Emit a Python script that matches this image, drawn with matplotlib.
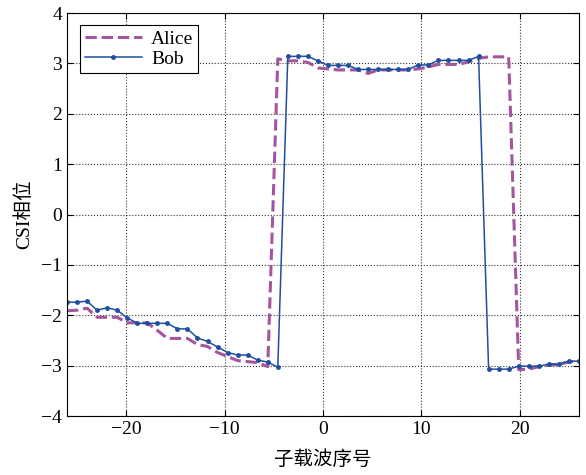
import numpy as np
import matplotlib
matplotlib.use("Agg")
import matplotlib.pyplot as plt

plt.rcParams['font.family'] = ['Liberation Serif', 'Noto Sans CJK SC']
plt.rcParams['font.size'] = 14

# 52 subcarriers spread over [-26, 26]
n_sub = 52
sub_x = np.linspace(-26, 26, n_sub)

alice_phase = [
    -1.91, -1.90, -1.86, -2.04, -2.04, -2.04, -2.15, -2.15, -2.15, -2.30,
    -2.46, -2.46, -2.46, -2.58, -2.62, -2.74, -2.82, -2.90, -2.92, -2.94,
    -3.02, 3.09, 3.05, 3.05, 3.02, 2.91, 2.89, 2.87, 2.87, 2.87,
    2.80, 2.87, 2.87, 2.87, 2.87, 2.89, 2.93, 2.98, 2.98, 2.98,
    3.03, 3.10, 3.13, 3.13, 3.13, -3.08, -3.07, -3.02, -2.99, -2.97,
    -2.93, -2.90,
]
bob_phase = [
    -1.74, -1.74, -1.72, -1.90, -1.85, -1.90, -2.05, -2.16, -2.16, -2.16,
    -2.16, -2.27, -2.27, -2.45, -2.52, -2.63, -2.74, -2.79, -2.79, -2.89,
    -2.93, -3.03, 3.14, 3.14, 3.14, 3.05, 2.96, 2.96, 2.96, 2.88,
    2.88, 2.88, 2.88, 2.88, 2.88, 2.97, 2.97, 3.06, 3.06, 3.06,
    3.06, 3.14, -3.07, -3.07, -3.07, -3.01, -3.01, -3.01, -2.97, -2.97,
    -2.91, -2.91,
]

fig = plt.figure(figsize=(5.86, 4.75), dpi=100)
ax = fig.add_axes([0.1143, 0.1242, 0.8737, 0.8484])

ax.plot(sub_x, alice_phase, '--', color='#a3559e', lw=2.2, label='Alice')
ax.plot(sub_x, bob_phase, '-', color='#1f4f9e', lw=1.1, marker='.',
        markersize=5, label='Bob')

ax.set_xlim(-26, 26)
ax.set_ylim(-4, 4)
ax.set_xticks([-20, -10, 0, 10, 20])
ax.set_yticks(range(-4, 5))
ax.grid(True, linestyle=':', color='#333333', linewidth=0.8)
ax.tick_params(direction='in', top=True, right=True, length=4)
for sp in ax.spines.values():
    sp.set_linewidth(0.8)

ax.set_xlabel('子载波序号', labelpad=9)
ax.set_ylabel('CSI相位', labelpad=6)

leg = ax.legend(loc='upper left', bbox_to_anchor=(0.026, 0.97),
                borderaxespad=0, fancybox=False, framealpha=1,
                edgecolor='black', handlelength=2.9, borderpad=0.25,
                labelspacing=0.15, handletextpad=0.5)
leg.get_frame().set_linewidth(0.8)

plt.savefig('out.png', dpi=100)
